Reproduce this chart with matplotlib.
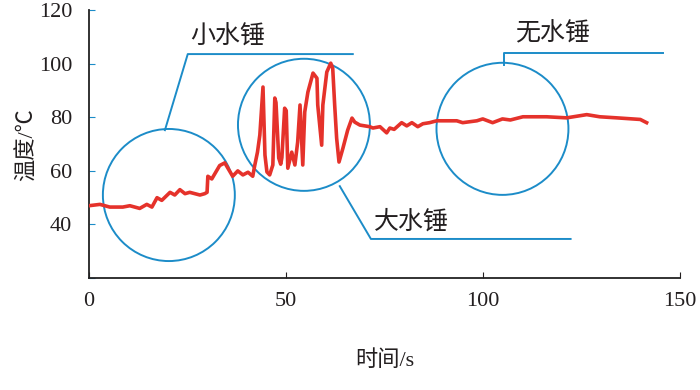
import matplotlib
matplotlib.use("Agg")
import matplotlib.pyplot as plt
from matplotlib.patches import Ellipse

plt.rcParams['font.family'] = ['Liberation Serif', 'Noto Sans CJK SC']

# data: time (s) and temperature (°C)
t = [0, 2.8, 5.3, 8.6, 10.4, 12.9, 14.7, 16, 17.3, 18.5, 20.6, 21.8, 23.1, 24.4, 25.6,
     28.2, 29.4, 30, 30.2, 31.2, 33.2, 34.5, 35.3, 36.5, 37.8, 39.1, 40.4, 41.6,
     42.1, 42.8, 43.4, 44.2, 44.7, 45.2, 45.9, 46.7, 47.2, 47.5, 48.2, 48.7, 49.0,
     49.7, 50.1, 50.5, 51.5, 52.3, 53.0, 53.6, 54.3, 54.8, 55.6, 56.9, 57.9, 58.1,
     59.1, 59.4, 60.4, 61.4, 61.9, 62.4, 62.9, 63.5, 64.5, 65.7, 66.8, 67.5, 68.8,
     71.3, 72.1, 73.9, 75.6, 76.4, 77.5, 79.4, 80.7, 82, 83.5, 84.8, 86.5, 88.3,
     93.4, 94.9, 98.5, 100, 102.5, 105, 107, 110.2, 116.2, 121.3, 126.4, 129.7, 134,
     138, 140, 141.6]
temp = [47, 47.5, 46.5, 46.5, 47, 46, 47.5, 46.5, 50, 49, 52, 51, 53, 51.5, 52,
        51, 51.5, 52, 58, 57, 62, 63, 61, 58, 60, 58.5, 59.5, 58,
        62, 67, 73.4, 91.3, 65.9, 59.6, 58.5, 62.2, 87.2, 85.5, 64.8, 62.5, 65,
        83.4, 82.5, 61, 67, 62.2, 70.7, 84.6, 62.2, 82, 89.4, 96.5, 94.6, 84.6,
        69.6, 84.6, 96.9, 100.2, 98.4, 84.6, 72.2, 63.3, 68.5, 75.2, 79.7, 78.2, 77.1,
        76.5, 76, 76.5, 74.2, 76, 75.5, 78, 76.8, 78, 76.5, 77.6, 78, 78.7,
        78.7, 78, 78.7, 79.4, 78, 79.4, 79, 80.2, 80.2, 79.8, 81, 80.2, 79.8,
        79.4, 79.2, 78]

# callout circles: (center x, center y) in data units
circle_centers = [(20.3, 51.0), (54.6, 77.2), (105.0, 75.7)]
circle_w, circle_h = 33.5, 49.3

labels = ['小水锤', '大水锤', '无水锤']
label_pos = [(35.3, 109.9), (82.0, 40.9), (117.8, 111.4)]
leaders = [
    ([19.3, 25.1, 67.0], [75.2, 103.6, 103.6]),
    ([63.7, 71.6, 122.3], [54.3, 34.6, 34.6]),
    ([105.3, 105.3, 145.7], [99.5, 104.0, 104.0]),
]

xticks = [0, 50, 100, 150]
yticks = [20, 40, 60, 80, 100, 120]
ytick_labels = ['', '40', '60', '80', '100', '120']

red = '#e5322b'
blue = '#1c8cc8'
txt = '#231f20'

fig = plt.figure(figsize=(7.0, 3.9), dpi=100)
ax = fig.add_axes([0.127, 0.287, 0.844, 0.687])

ax.plot(t, temp, color=red, lw=2.6, solid_joinstyle='round', zorder=3)

for (cx, cy) in circle_centers:
    ax.add_patch(Ellipse((cx, cy), circle_w, circle_h, fill=False,
                         edgecolor=blue, lw=1.4, zorder=2))
for (xs, ys) in leaders:
    ax.plot(xs, ys, color=blue, lw=1.4, zorder=2)
for lab, (lx, ly) in zip(labels, label_pos):
    ax.text(lx, ly, lab, fontsize=18, ha='center', va='center', color=txt)

ax.set_xlim(0, 150)
ax.set_ylim(20, 120)
ax.set_xticks(xticks)
ax.set_yticks(yticks)
ax.set_yticklabels(ytick_labels)
ax.tick_params(axis='both', direction='in', labelsize=16, colors=txt)
ax.tick_params(axis='y', color=blue, length=4, pad=12)
ax.tick_params(axis='x', length=4, pad=10)
for s in ['top', 'right']:
    ax.spines[s].set_visible(False)
for s in ['left', 'bottom']:
    ax.spines[s].set_color('#222222')
    ax.spines[s].set_linewidth(1.3)

ax.set_xlabel('时间/s', fontsize=16, color=txt, labelpad=28)
ax.set_ylabel('温度/℃', fontsize=16, color=txt, labelpad=1)

fig.savefig('out.png', dpi=100)
